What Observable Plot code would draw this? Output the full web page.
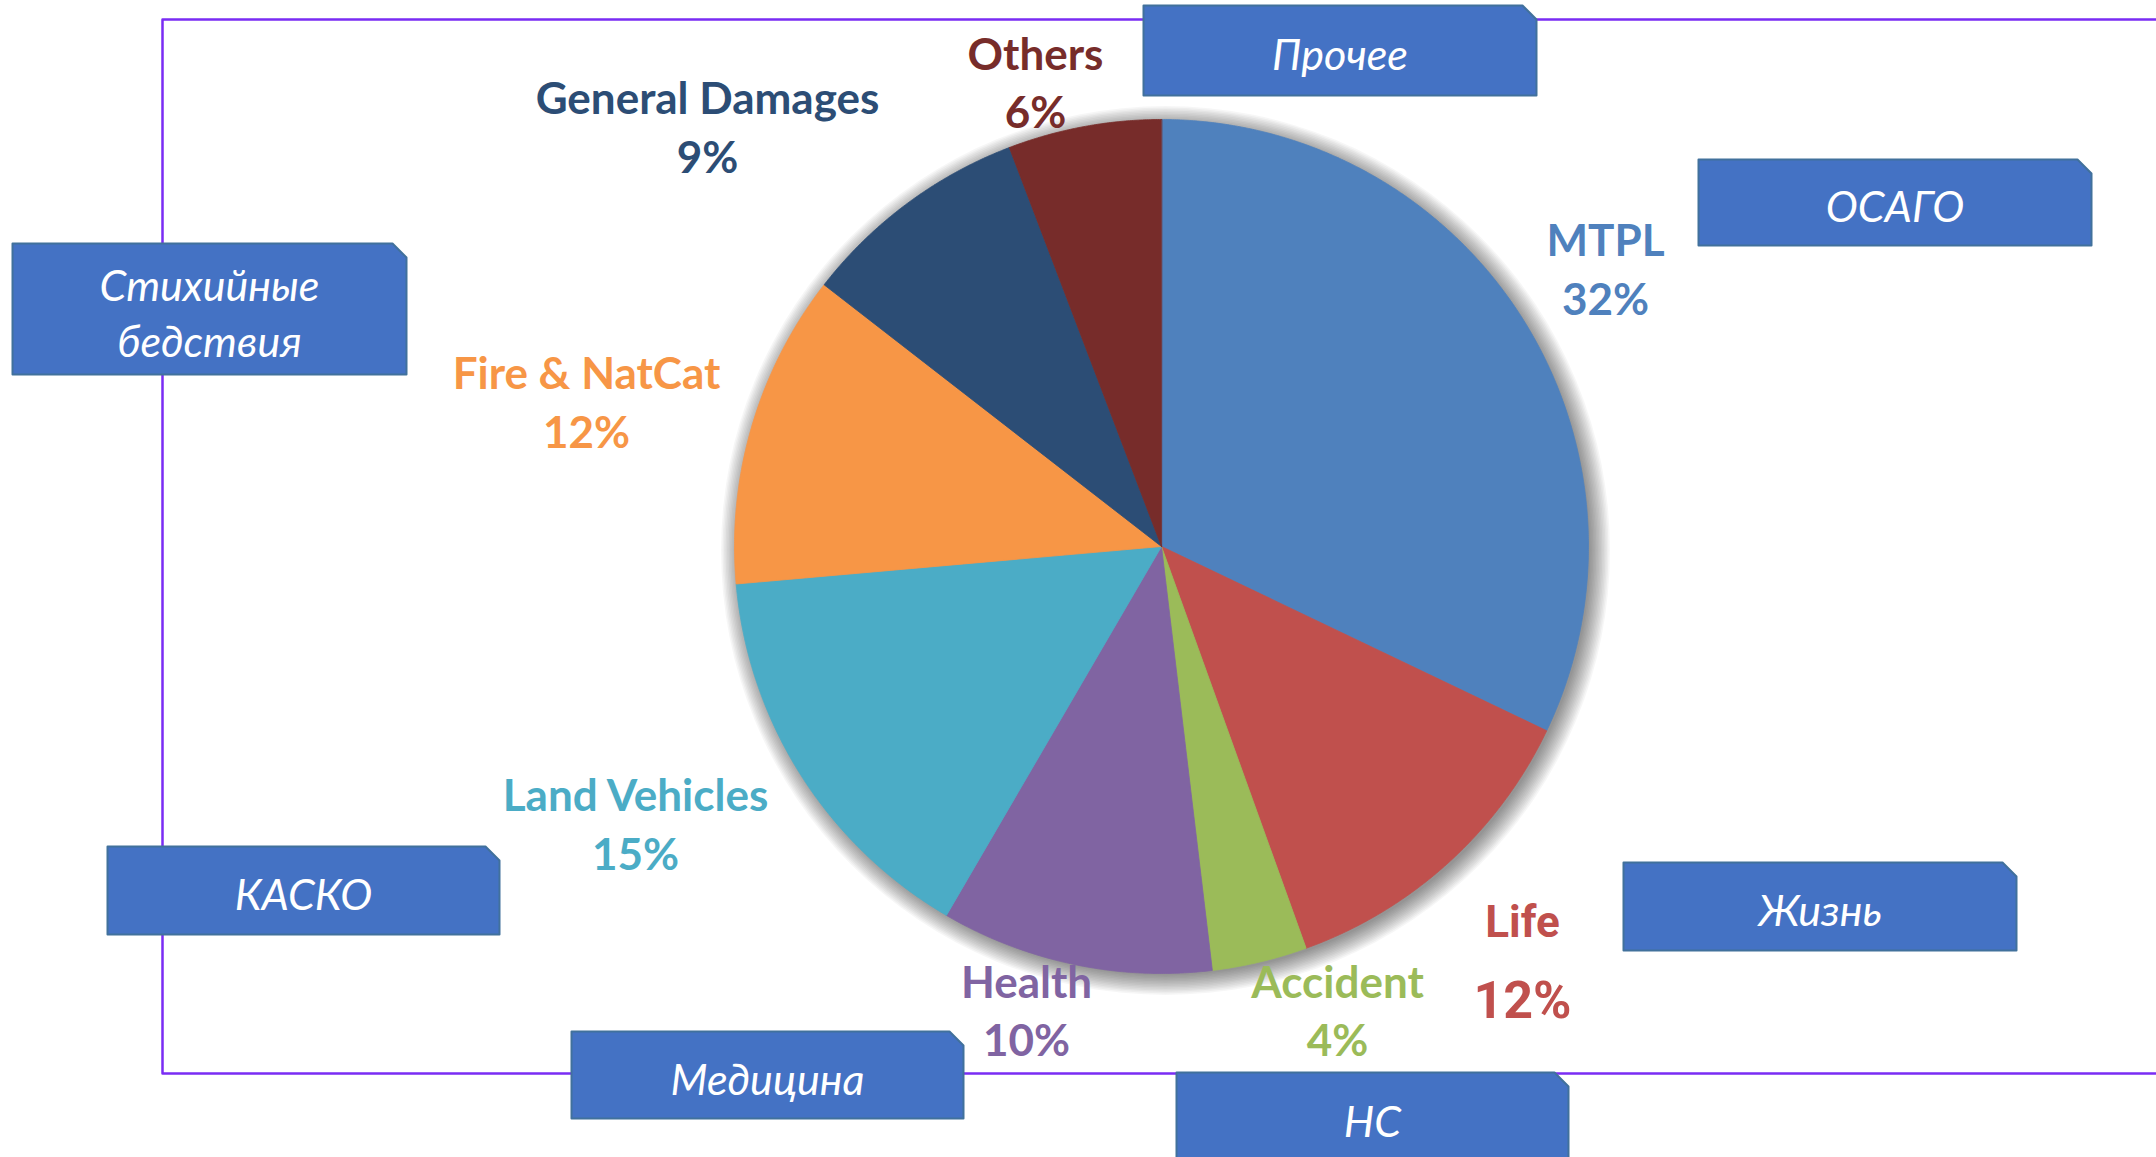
<!DOCTYPE html>
<html><head><meta charset="utf-8">
<script src="https://cdn.jsdelivr.net/npm/d3@7"></script>
<script src="https://cdn.jsdelivr.net/npm/@observablehq/plot@0.6"></script>
<style>html,body{margin:0;padding:0;background:#fff;overflow:hidden}</style>
</head><body><div id="chart"></div>
<script>
// ---- data ----
const categories = ["MTPL","Life","Accident","Health","Land Vehicles","Fire & NatCat","General Damages","Others"];
const shares = [32.1, 12.4, 3.6, 10.3, 15.2, 11.9, 8.7, 5.8];
const pctLabels = ["32%","12%","4%","10%","15%","12%","9%","6%"];
const sliceColors = ["#4F81BD","#C0504D","#9BBB59","#8064A2","#4BACC6","#F79646","#2C4D75","#772C2A"];
const labelColors = ["#4F81BD","#C0504D","#9BBB59","#8064A2","#4BACC6","#F79646","#2C4D75","#772C2A"];
const ruCategories = ["Прочее","ОСАГО","Стихийные\nбедствия","КАСКО","Жизнь","Медицина","НС"];

// ---- layout (pixels) ----
const W = 2156, H = 1157;
const pieGeom = {cx:1161, cy:546, r:427};
const labelLayout = [
  {x:1605, yName:241, yPct:300},  // MTPL
  {x:1522, yName:922, yPct:1001}, // Life
  {x:1337, yName:983, yPct:1041}, // Accident
  {x:1026, yName:983, yPct:1041}, // Health
  {x:635,  yName:796, yPct:855},  // Land Vehicles
  {x:586,  yName:374, yPct:433},  // Fire & NatCat
  {x:707,  yName:99,  yPct:158},  // General Damages
  {x:1035, yName:55,  yPct:113}   // Others
];
const boxLayout = [
  [1143,5,1536,95],
  [1698,159,2091,245],
  [12,243,406,374],
  [107,846,499,934],
  [1623,862,2016,950],
  [571,1031,963,1118],
  [1176,1072,1568,1162]
];
const cut = 14;
const frame = {x1:162, y1:19, x2:2300, y2:1073};

// ---- derived geometry ----
const arcs = d3.pie().sort(null).value(d => d)(shares);
const slicePts = [];
arcs.forEach((a, i) => {
  const n = Math.max(2, Math.ceil((a.endAngle - a.startAngle) / 0.005));
  slicePts.push({cat: categories[i], x: pieGeom.cx, y: pieGeom.cy});
  for (let k = 0; k <= n; k++) {
    const t = a.startAngle + (a.endAngle - a.startAngle) * k / n;
    slicePts.push({cat: categories[i], x: pieGeom.cx + pieGeom.r * Math.sin(t), y: pieGeom.cy - pieGeom.r * Math.cos(t)});
  }
});

const boxPts = [];
boxLayout.forEach(([x1,y1,x2,y2], i) => {
  [[x1,y1],[x2-cut,y1],[x2,y1+cut],[x2,y2],[x1,y2]].forEach(([x,y]) => boxPts.push({b:i, x, y}));
});
const boxText = boxLayout.map(([x1,y1,x2,y2], i) => ({x:(x1+x2)/2, y:(y1+y2)/2 + 2, text: ruCategories[i]}));

const labels = categories.map((c, i) => ({
  name: c, pct: pctLabels[i], color: labelColors[i], ...labelLayout[i]
}));
const mainLabels = labels.filter(d => d.name !== "Life");
const lifeLabel = labels.filter(d => d.name === "Life");

const framePts = [
  {x: frame.x2, y: frame.y1}, {x: frame.x1, y: frame.y1},
  {x: frame.x1, y: frame.y2}, {x: frame.x2, y: frame.y2}
];

// soft shadow made of stacked translucent discs
const shadowLayers = d3.range(14).map(k => pieGeom.r - 2 + k * 1.5);

const chart = Plot.plot({
  width: W, height: H, margin: 0,
  x: {domain: [0, W], range: [0, W], axis: null},
  y: {domain: [0, H], range: [0, H], axis: null},
  color: {domain: categories, range: sliceColors},
  style: {background: "white", fontFamily: "Lato, sans-serif"},
  marks: [
    Plot.line(framePts, {x: "x", y: "y", stroke: "#7A2CF4", strokeWidth: 2.5}),
    ...shadowLayers.map(rr => Plot.dot([pieGeom], {x: "cx", y: "cy", r: rr, fill: "#000", fillOpacity: 0.035, stroke: null, dx: 4, dy: 4})),
    Plot.line(slicePts, {x: "x", y: "y", z: "cat", fill: "cat", stroke: "cat", strokeWidth: 0.8, curve: "linear-closed"}),
    Plot.line(boxPts, {x: "x", y: "y", z: "b", fill: "#4472C4", stroke: "#41719C", strokeWidth: 2, curve: "linear-closed"}),
    Plot.text(boxText, {x: "x", y: "y", text: "text", fill: "white", fontSize: 43, fontStyle: "italic", lineHeight: 1.3, fontFamily: "Lato"}),
    Plot.text(mainLabels, {x: "x", y: "yName", text: "name", fill: "color", fontSize: 44, fontWeight: "bold"}),
    Plot.text(mainLabels, {x: "x", y: "yPct", text: "pct", fill: "color", fontSize: 44, fontWeight: "bold"}),
    Plot.text(lifeLabel, {x: "x", y: "yName", text: "name", fill: "color", fontSize: 44, fontWeight: "bold", fontFamily: "Roboto"}),
    Plot.text(lifeLabel, {x: "x", y: "yPct", text: "pct", fill: "color", fontSize: 52, fontWeight: "bold", fontFamily: "Roboto"})
  ]
});
document.getElementById("chart").appendChild(chart);
</script>
</body></html>
